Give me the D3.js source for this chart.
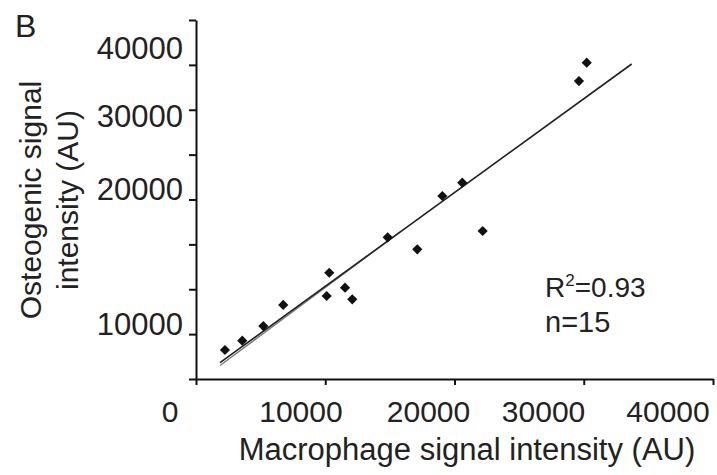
<!DOCTYPE html>
<html><head><meta charset="utf-8">
<script src="https://cdn.jsdelivr.net/npm/d3@7"></script>
<style>body{margin:0;background:#fff}svg{display:block}text{font-family:"Liberation Sans",Arial,sans-serif;fill:#222}</style>
</head><body><svg id="c" width="717" height="475"></svg>
<script>
// Data
const macrophage = [2240, 3580, 5210, 6750, 10310, 10110, 11530, 12090, 14830, 17120, 19060, 20600, 22180, 29630, 30230];
const osteogenic = [3230, 4270, 5900, 8250, 11840, 9250, 10170, 8880, 15790, 14450, 20390, 21870, 16490, 33200, 35240];
const fitMain = [[1860, 1816], [33710, 35100]];
const fitSecond = [[1860, 1504], [15780, 16370]];
const yTicks = [0, 5000, 10000, 15000, 20000, 25000, 30000, 35000, 40000];
const xTicks = [0, 10000, 20000, 30000, 40000];
const yTickLabels = ["10000", "20000", "30000", "40000"];
const yLabelAt = [6130, 21170, 29300, 36880];
const xTickLabels = ["0", "10000", "20000", "30000", "40000"];
const xLabelAt = [-2010, 8120, 17990, 26890, 36520];

const svg = d3.select("#c");
const x = d3.scaleLinear().domain([0, 40000]).range([196, 713]);
const y = d3.scaleLinear().domain([0, 40000]).range([379, 20]);

// axes
svg.append("g").attr("transform", `translate(${x(0)},0)`)
  .call(d3.axisLeft(y).tickValues(yTicks).tickFormat("").tickSize(7).tickSizeOuter(0));
svg.append("g").attr("transform", `translate(0,${y(0)})`)
  .call(d3.axisBottom(x).tickValues(xTicks).tickFormat("").tickSize(6).tickSizeOuter(0));
svg.selectAll(".domain, .tick line").attr("stroke", "#111").attr("stroke-width", 2);

// tick labels (placed as in the reference)
svg.append("g").selectAll("text").data(yTickLabels).join("text")
  .attr("x", 183).attr("y", (d, i) => y(yLabelAt[i])).attr("dy", "0.36em")
  .attr("text-anchor", "end").attr("font-size", 31).text(d => d);
svg.append("g").selectAll("text").data(xTickLabels).join("text")
  .attr("x", (d, i) => x(xLabelAt[i])).attr("y", 422)
  .attr("text-anchor", "middle").attr("font-size", 30).text(d => d);

// fit lines
const line = d3.line().x(d => x(d[0])).y(d => y(d[1]));
svg.append("path").datum(fitSecond).attr("d", line).attr("fill", "none").attr("stroke", "#777").attr("stroke-width", 1.3);
svg.append("path").datum(fitMain).attr("d", line).attr("fill", "none").attr("stroke", "#222").attr("stroke-width", 1.6);

// points
const sym = d3.symbol().type(d3.symbolSquare).size(52);
svg.append("g").selectAll("path").data(macrophage).join("path")
  .attr("transform", (d, i) => `translate(${x(d)},${y(osteogenic[i])}) rotate(45)`)
  .attr("d", sym).attr("fill", "#111");

// titles
svg.append("text").attr("x", 467).attr("y", 460).attr("text-anchor", "middle")
  .attr("font-size", 31).text("Macrophage signal intensity (AU)");
const yt = svg.append("text").attr("transform", "translate(0,200) rotate(-90)").attr("text-anchor", "middle").attr("font-size", 30);
yt.append("tspan").attr("x", 0).attr("y", 41).text("Osteogenic signal");
yt.append("tspan").attr("x", 0).attr("y", 78).text("intensity (AU)");

svg.append("text").attr("x", 15).attr("y", 37).attr("font-size", 32).text("B");

const ann = svg.append("text").attr("x", 545).attr("y", 297).attr("font-size", 28);
ann.append("tspan").text("R");
ann.append("tspan").attr("font-size", 17).attr("dy", -11).text("2");
ann.append("tspan").attr("dy", 11).text("=0.93");
svg.append("text").attr("x", 545).attr("y", 332).attr("font-size", 29).text("n=15");
</script></body></html>
